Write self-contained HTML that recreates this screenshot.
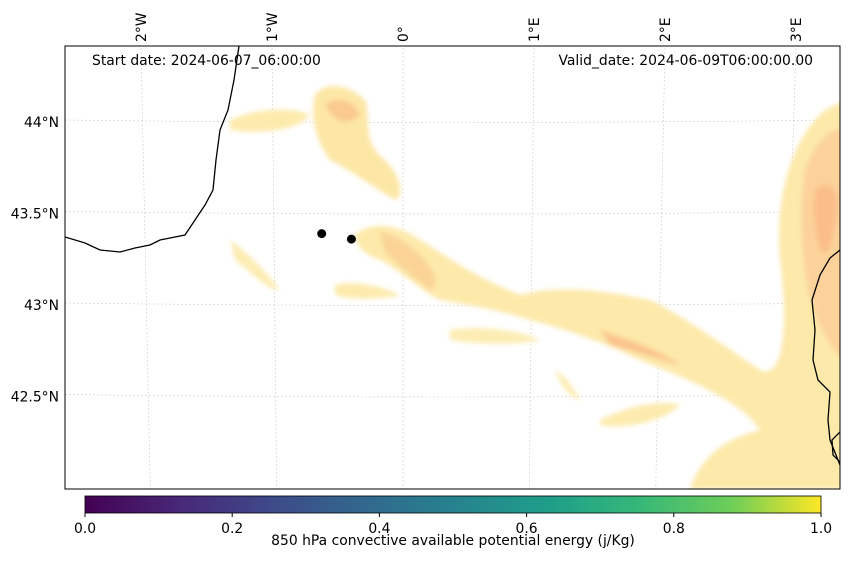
<!DOCTYPE html>
<html><head><meta charset="utf-8">
<style>
body{margin:0;background:#fff;}
svg text{font-family:"DejaVu Sans","Liberation Sans",sans-serif;font-size:13.9px;fill:#000;}
</style></head>
<body>
<svg id="chart" width="850" height="558" viewBox="0 0 850 558" xmlns="http://www.w3.org/2000/svg">
<defs>
<filter id="blur" x="-10%" y="-10%" width="120%" height="120%"><feGaussianBlur stdDeviation="2.5"/></filter>
<clipPath id="mapclip"><rect x="65" y="46" width="775" height="443"/></clipPath>
<linearGradient id="viridis" x1="0" x2="1" y1="0" y2="0">
<stop offset="0" stop-color="#440154"/><stop offset="0.13" stop-color="#482878"/>
<stop offset="0.25" stop-color="#3e4989"/><stop offset="0.38" stop-color="#31688e"/>
<stop offset="0.5" stop-color="#26828e"/><stop offset="0.63" stop-color="#1f9e89"/>
<stop offset="0.75" stop-color="#35b779"/><stop offset="0.88" stop-color="#6ece58"/>
<stop offset="1" stop-color="#fde725"/></linearGradient>
</defs>
<rect x="0" y="0" width="850" height="558" fill="#fff"/>
<g id="grid" clip-path="url(#mapclip)"></g>
<g clip-path="url(#mapclip)">
<g filter="url(#blur)" opacity="0.95">
<path d="M315,95 C325,80 350,85 365,100 C372,120 360,140 385,160 C400,175 405,195 395,200 C370,185 350,170 330,160 C315,140 310,115 315,95Z" fill="#fde6a2"/>
<path d="M325,105 C335,95 355,100 360,115 C350,125 335,125 325,105Z" fill="#fbc88a"/>
<path d="M230,120 C250,110 290,105 310,115 C300,130 260,135 230,130Z" fill="#fdeaaa"/>
<path d="M355,235 C370,220 400,225 420,240 C445,255 470,275 520,295 C560,285 600,290 650,300 C690,320 730,350 760,370 C780,380 790,340 780,260 C775,200 790,140 825,110 L845,100 L845,489 L690,489 C700,460 720,440 760,430 C740,400 690,380 640,360 C610,345 570,330 530,320 C500,310 470,305 440,300 C420,290 400,270 380,260 C365,255 355,245 355,235Z" fill="#fde8a6"/>
<path d="M380,232 C395,235 410,245 420,255 C435,270 440,285 430,290 C415,280 400,265 385,252Z" fill="#fbd192"/>
<path d="M805,170 C815,140 835,125 845,130 L845,360 C830,350 815,320 808,290 C800,240 800,200 805,170Z" fill="#fcd095"/>
<path d="M815,190 C825,180 835,185 838,200 C835,240 828,260 820,250 C815,230 812,210 815,190Z" fill="#fbbb84"/>
<path d="M600,330 C630,340 660,350 680,365 C660,360 630,350 610,345Z" fill="#fbc288"/>
<path d="M335,285 C350,280 380,285 400,295 C380,300 350,300 335,295Z" fill="#fdeaaa"/>
<path d="M230,240 C245,250 265,270 280,290 C265,290 250,270 235,260Z" fill="#fdecb0"/>
<path d="M600,420 C630,405 660,400 680,405 C665,420 630,430 600,425Z" fill="#fdeaaa"/>
<path d="M450,330 C480,325 520,330 540,340 C520,345 480,345 450,340Z" fill="#fdecb0"/>
<path d="M555,370 C565,375 575,390 580,400 C570,398 560,385 555,370Z" fill="#fdecb0"/>
</g></g>
<g clip-path="url(#mapclip)" fill="none" stroke="#000" stroke-width="1.3">
<path d="M239,46 L234,80 L228,110 L220,130 L216,160 L213,190 L205,205 L195,220 L185,235 L170,238 L160,240 L150,245 L135,248 L120,252 L100,250 L85,243 L65,237"/>
<path d="M840,250 L830,258 L820,275 L812,300 L815,330 L813,360 L818,380 L830,392 L828,420 L830,440 L838,460 L840,465"/>
<path d="M840,432 L832,440 L833,455 L840,462"/>
</g>
<g id="points"></g>
<rect x="65" y="46" width="775" height="443" fill="none" stroke="#000" stroke-width="1"/>
<g id="axislabels"></g>
<text x="92" y="65">Start date: 2024-06-07_06:00:00</text>
<text x="813" y="65" text-anchor="end">Valid_date: 2024-06-09T06:00:00.00</text>
<rect x="85" y="496" width="736" height="17" fill="url(#viridis)" stroke="#000" stroke-width="0.8"/>
<g id="cbticks"></g>
<text x="453" y="545" text-anchor="middle">850 hPa convective available potential energy (j/Kg)</text>
</svg>
<script>
const lonLabels=["2°W","1°W","0°","1°E","2°E","3°E"];
const lonValues=[-2,-1,0,1,2,3];
const latLabels=["44°N","43.5°N","43°N","42.5°N"];
const latValues=[44,43.5,43,42.5];
const cbTicks=[0.0,0.2,0.4,0.6,0.8,1.0];
const pointLon=[-0.63,-0.40];
const pointLat=[43.39,43.36];
const NS="http://www.w3.org/2000/svg";
function lonX(lon,y){return 403+lon*131*(1-(y-46)*0.00008) ;}
function latY(lat){return 305-(lat-43)*183;}
function mk(t,a){const e=document.createElementNS(NS,t);for(const k in a)e.setAttribute(k,a[k]);return e;}
const grid=document.getElementById('grid'),lab=document.getElementById('axislabels');
lonValues.forEach((v,i)=>{
  const l=mk('line',{x1:lonX(v,20),y1:20,x2:lonX(v,489),y2:489,stroke:'#ccc','stroke-width':0.6,'stroke-dasharray':'2,2'});
  
  
  grid.appendChild(l);
  const t=mk('text',{transform:`translate(${lonX(v,46)+5},42) rotate(-90)`});
  t.textContent=lonLabels[i];
  
  
  lab.appendChild(t);
});
latValues.forEach((v,i)=>{
  const y=latY(v);
  const l=mk('path',{d:`M65,${y-2} Q450,${y+3} 840,${y-2}`,fill:'none',stroke:'#ccc','stroke-width':0.6,'stroke-dasharray':'2,2'});
  
  
  grid.appendChild(l);
  const t=mk('text',{x:59,y:y+5,'text-anchor':'end'});
  t.textContent=latLabels[i];
  
  
  lab.appendChild(t);
});
const pts=document.getElementById('points');
pointLon.forEach((v,i)=>{
  const y=latY(pointLat[i]);
  const c=mk('circle',{cx:lonX(v,y),cy:y,r:4.5,fill:'#000'});
  
  
  pts.appendChild(c);
});
const cb=document.getElementById('cbticks');
cbTicks.forEach(v=>{
  const x=85+v*736;
  const l=mk('line',{x1:x,y1:513,x2:x,y2:517,stroke:'#000'});
  
  
  cb.appendChild(l);
  const t=mk('text',{x:x,y:533,'text-anchor':'middle'});
  t.textContent=v.toFixed(1);
  
  
  cb.appendChild(t);
});
</script>
</body></html>
